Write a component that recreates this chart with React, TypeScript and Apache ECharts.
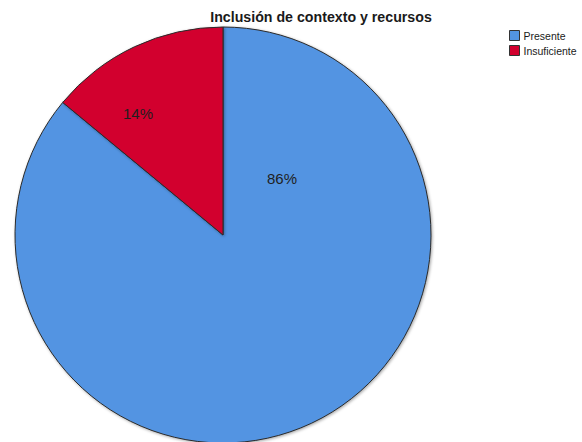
import React, { useEffect, useRef } from "react";
import * as echarts from "echarts";

const categories = ["Presente", "Insuficiente"];
const values = [86, 14];
const colors = ["#5294e2", "#d2002e"];
const labelSpots: [number, number][] = [
  [282, 178],
  [138, 113],
];

export default function App() {
  const ref = useRef<HTMLDivElement>(null);
  useEffect(() => {
    if (!ref.current) return;
    const chart = echarts.init(ref.current, undefined, { renderer: "svg" });
    chart.setOption({
      animation: false,
      backgroundColor: "#ffffff",
      title: {
        text: "Inclusión de contexto y recursos",
        left: 316,
        textAlign: "center",
        top: 5,
        textStyle: {
          fontFamily: "Liberation Sans, Arial, sans-serif",
          fontSize: 14.2,
          fontWeight: "bold",
          color: "#1a1a1a",
        },
      },
      legend: {
        orient: "vertical",
        left: 509,
        top: 30,
        itemWidth: 10,
        itemHeight: 10,
        itemGap: 4,
        icon: "rect",
        padding: 0,
        data: categories,
        textStyle: {
          fontFamily: "Liberation Sans, Arial, sans-serif",
          fontSize: 10.5,
          color: "#1a1a1a",
          padding: [0, 0, 0, -1],
        },
        itemStyle: { borderColor: "#333333", borderWidth: 1 },
      },
      series: [
        {
          type: "pie",
          center: [223, 235],
          radius: 208,
          startAngle: 90,
          clockwise: true,
          data: categories.map((c, i) => ({
            name: c,
            value: values[i],
            itemStyle: { color: colors[i] },
          })),
          itemStyle: {
            borderColor: "#2a2a2a",
            borderWidth: 1,
            shadowColor: "rgba(0,0,0,0.35)",
            shadowBlur: 3,
            shadowOffsetX: 1,
            shadowOffsetY: 1,
          },
          label: {
            show: true,
            position: "inside",
            formatter: (p: any) => `${p.value}%`,
            fontFamily: "Liberation Sans, Arial, sans-serif",
            fontSize: 15,
            color: "#1f1f1f",
          },
          labelLine: { show: false },
          labelLayout: (params: any) => {
            const spot = labelSpots[params.dataIndex];
            return { x: spot[0], y: spot[1], align: "center", verticalAlign: "middle" };
          },
          emphasis: { disabled: true },
        },
      ],
    });
    return () => chart.dispose();
  }, []);
  return (
    <div
      ref={ref}
      style={{ position: "fixed", left: 0, top: 0, width: 582, height: 442 }}
    />
  );
}
